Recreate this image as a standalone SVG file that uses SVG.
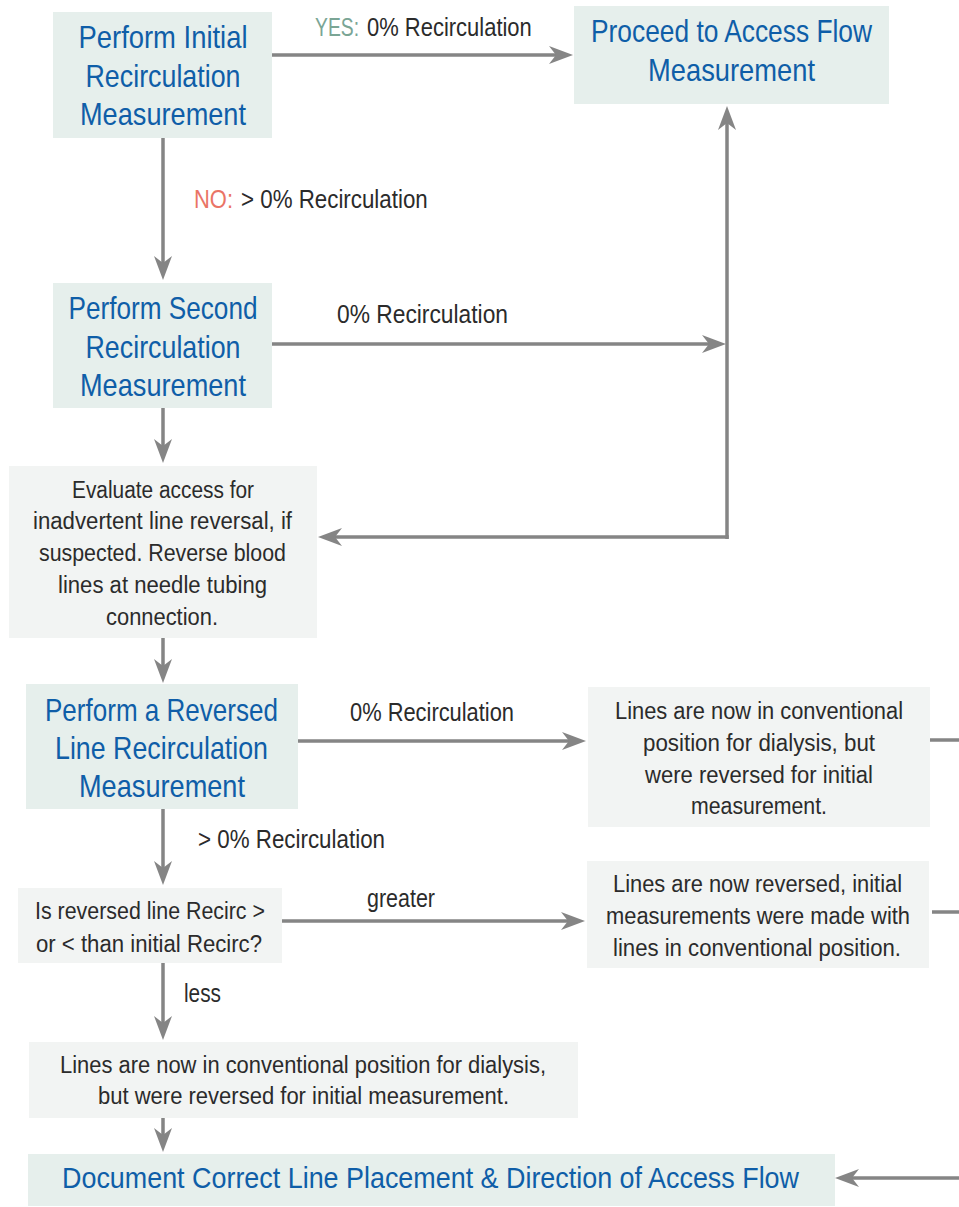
<svg xmlns="http://www.w3.org/2000/svg" width="959" height="1207" viewBox="0 0 959 1207">
  <style>
    .step { fill: #e6efec; }
    .note { fill: #f2f4f3; }
    text { font-family: "Liberation Sans", Arial, sans-serif; }
    .title { font-size: 32px; fill: #0f5ea8; text-anchor: middle; }
    .doc { font-size: 30px; fill: #0f5ea8; text-anchor: middle; }
    .body { font-size: 23.5px; fill: #2b2b2b; text-anchor: middle; }
    .label { font-size: 26px; fill: #2b2b2b; }
    .yes { fill: #7aa595; }
    .no { fill: #ea7466; }
    .wire { fill: none; stroke: #858585; stroke-width: 3.5; }
    .arrow { marker-end: url(#head); }
  </style>
  <defs>
    <marker id="head" viewBox="-24 -9 24 18" refX="-10" refY="0" markerWidth="24" markerHeight="18" markerUnits="userSpaceOnUse" orient="auto">
      <path d="M0,0 L-24,-9 L-17,0 L-24,9 Z" fill="#858585"/>
    </marker>
  </defs>

  <rect width="959" height="1207" fill="#ffffff"/>

  <!-- connectors -->
  <g id="connectors">
    <path class="wire arrow" d="M272,55 H563"/>
    <path class="wire arrow" d="M163,138 V270"/>
    <path class="wire arrow" d="M272,344 H716"/>
    <path class="wire arrow" d="M727,539 V116"/>
    <path class="wire arrow" d="M728.75,537 H328"/>
    <path class="wire arrow" d="M163,408 V453"/>
    <path class="wire arrow" d="M163,638 V673"/>
    <path class="wire arrow" d="M298,741 H576"/>
    <path class="wire" d="M930,740 H959"/>
    <path class="wire arrow" d="M163,809 V875"/>
    <path class="wire arrow" d="M282,921 H575"/>
    <path class="wire" d="M932,912 H959"/>
    <path class="wire arrow" d="M163,963 V1030"/>
    <path class="wire arrow" d="M163,1118 V1142"/>
    <path class="wire arrow" d="M959,1178 H845"/>

    <!-- connector labels (narrowed horizontally) -->
    <g transform="translate(315,36) scale(0.8,1)">
      <text class="label yes" x="0" y="0" textLength="55" lengthAdjust="spacingAndGlyphs">YES:</text>
    </g>
    <g transform="translate(367,36) scale(0.8,1)">
      <text class="label" x="0" y="0" textLength="206" lengthAdjust="spacingAndGlyphs">0% Recirculation</text>
    </g>
    <g transform="translate(194,208) scale(0.85,1)">
      <text class="label no" x="0" y="0" textLength="45.9" lengthAdjust="spacingAndGlyphs">NO:</text>
    </g>
    <g transform="translate(241,208) scale(0.83,1)">
      <text class="label" x="0" y="0" textLength="225" lengthAdjust="spacingAndGlyphs">&gt; 0% Recirculation</text>
    </g>
    <text class="label" x="337" y="323" textLength="171" lengthAdjust="spacingAndGlyphs" fill="#111">0% Recirculation</text>
    <text class="label" x="350" y="721" textLength="164" lengthAdjust="spacingAndGlyphs">0% Recirculation</text>
    <text class="label" x="198" y="848" textLength="187" lengthAdjust="spacingAndGlyphs">&gt; 0% Recirculation</text>
    <text class="label" x="367" y="907" textLength="68" lengthAdjust="spacingAndGlyphs">greater</text>
    <text class="label" x="184" y="1002" textLength="37" lengthAdjust="spacingAndGlyphs">less</text>
  </g>

  <!-- nodes -->
  <g id="initial-measurement">
    <rect class="step" x="53" y="12" width="219" height="126"/>
    <text class="title" x="163" y="48" textLength="169" lengthAdjust="spacingAndGlyphs">Perform Initial</text>
    <text class="title" x="163" y="87" textLength="155" lengthAdjust="spacingAndGlyphs">Recirculation</text>
    <text class="title" x="163" y="125" textLength="166" lengthAdjust="spacingAndGlyphs">Measurement</text>
  </g>

  <g id="access-flow">
    <rect class="step" x="574" y="6" width="315" height="98"/>
    <text class="title" x="731.5" y="42" textLength="281" lengthAdjust="spacingAndGlyphs">Proceed to Access Flow</text>
    <text class="title" x="731.5" y="81" textLength="167" lengthAdjust="spacingAndGlyphs">Measurement</text>
  </g>

  <g id="second-measurement">
    <rect class="step" x="53" y="283" width="219" height="125"/>
    <text class="title" x="163" y="319" textLength="189" lengthAdjust="spacingAndGlyphs">Perform Second</text>
    <text class="title" x="163" y="358" textLength="155" lengthAdjust="spacingAndGlyphs">Recirculation</text>
    <text class="title" x="163" y="396" textLength="166" lengthAdjust="spacingAndGlyphs">Measurement</text>
  </g>

  <g id="evaluate-access">
    <rect class="note" x="9" y="466" width="308" height="172"/>
    <text class="body" x="163" y="498" textLength="182" lengthAdjust="spacingAndGlyphs">Evaluate access for</text>
    <text class="body" x="162.5" y="529" textLength="259" lengthAdjust="spacingAndGlyphs">inadvertent line reversal, if</text>
    <text class="body" x="162.5" y="561" textLength="247" lengthAdjust="spacingAndGlyphs">suspected. Reverse blood</text>
    <text class="body" x="162.5" y="593" textLength="209" lengthAdjust="spacingAndGlyphs">lines at needle tubing</text>
    <text class="body" x="162" y="625" textLength="112" lengthAdjust="spacingAndGlyphs">connection.</text>
  </g>

  <g id="reversed-measurement">
    <rect class="step" x="26" y="684" width="272" height="125"/>
    <text class="title" x="161.5" y="721" textLength="233" lengthAdjust="spacingAndGlyphs">Perform a Reversed</text>
    <text class="title" x="161.5" y="759" textLength="213" lengthAdjust="spacingAndGlyphs">Line Recirculation</text>
    <text class="title" x="162" y="797" textLength="166" lengthAdjust="spacingAndGlyphs">Measurement</text>
  </g>

  <g id="zero-result">
    <rect class="note" x="588" y="687" width="342" height="140"/>
    <text class="body" x="759" y="719" textLength="288" lengthAdjust="spacingAndGlyphs">Lines are now in conventional</text>
    <text class="body" x="759" y="751" textLength="232" lengthAdjust="spacingAndGlyphs">position for dialysis, but</text>
    <text class="body" x="759" y="783" textLength="228" lengthAdjust="spacingAndGlyphs">were reversed for initial</text>
    <text class="body" x="759" y="814" textLength="136" lengthAdjust="spacingAndGlyphs">measurement.</text>
  </g>

  <g id="compare-recirc">
    <rect class="note" x="18" y="888" width="264" height="75"/>
    <text class="body" x="150" y="919" textLength="230" lengthAdjust="spacingAndGlyphs">Is reversed line Recirc &gt;</text>
    <text class="body" x="149" y="952" textLength="226" lengthAdjust="spacingAndGlyphs">or &lt; than initial Recirc?</text>
  </g>

  <g id="greater-result">
    <rect class="note" x="587" y="861" width="342" height="107"/>
    <text class="body" x="757.5" y="892" textLength="289" lengthAdjust="spacingAndGlyphs">Lines are now reversed, initial</text>
    <text class="body" x="758" y="924" textLength="304" lengthAdjust="spacingAndGlyphs">measurements were made with</text>
    <text class="body" x="757" y="956" textLength="288" lengthAdjust="spacingAndGlyphs">lines in conventional position.</text>
  </g>

  <g id="less-result">
    <rect class="note" x="29" y="1042" width="549" height="76"/>
    <text class="body" x="303" y="1073" textLength="486" lengthAdjust="spacingAndGlyphs">Lines are now in conventional position for dialysis,</text>
    <text class="body" x="303.5" y="1104" textLength="411" lengthAdjust="spacingAndGlyphs">but were reversed for initial measurement.</text>
  </g>

  <g id="document-placement">
    <rect class="step" x="28" y="1154" width="807" height="52"/>
    <text class="doc" x="430.5" y="1188" textLength="737" lengthAdjust="spacingAndGlyphs">Document Correct Line Placement &amp; Direction of Access Flow</text>
  </g>
</svg>
